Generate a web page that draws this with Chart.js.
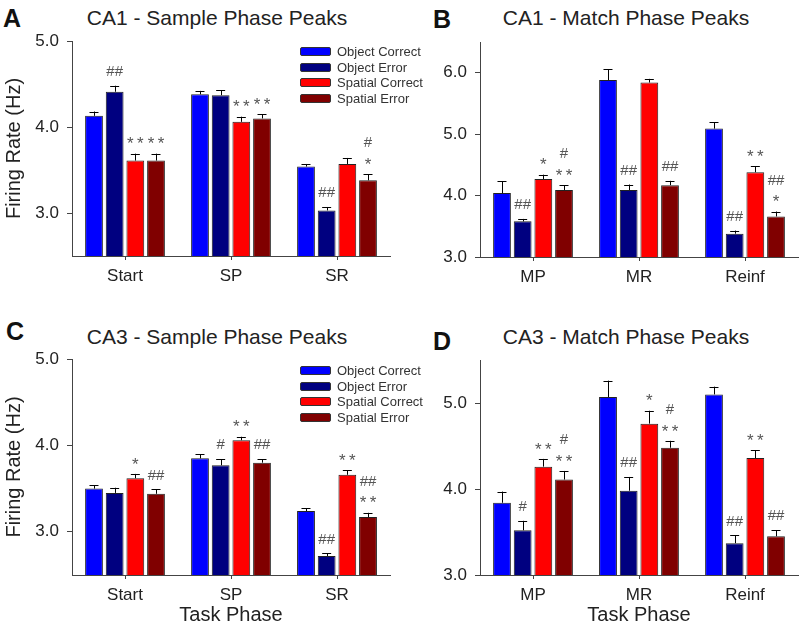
<!DOCTYPE html>
<html><head><meta charset="utf-8">
<script src="https://cdn.jsdelivr.net/npm/chart.js@4.4.0/dist/chart.umd.min.js"></script>
<style>
html,body{margin:0;padding:0;background:#fff;}
body{width:800px;height:625px;position:relative;overflow:hidden;font-family:"Liberation Sans",Arial,sans-serif;color:#222;}
.pane{position:absolute;}
.title{position:absolute;transform:translate(-50%,-50%);font-size:21px;white-space:nowrap;color:#222}
.letter{position:absolute;font-weight:bold;font-size:25px;line-height:1;color:#111}
.legend{position:absolute;font-size:13px;color:#333}
.legend div{height:15.5px;display:flex;align-items:center;white-space:nowrap}
.legend i{display:inline-block;width:29px;height:7px;border:1px solid #333;border-radius:2px;margin-right:6px}
</style></head>
<body>
<div class="letter" style="left:3px;top:6px">A</div>
<div class="letter" style="left:433px;top:7px">B</div>
<div class="letter" style="left:6px;top:319px">C</div>
<div class="letter" style="left:433px;top:329px">D</div>
<div class="title" style="left:217px;top:18px">CA1 - Sample Phase Peaks</div>
<div class="title" style="left:626px;top:18px">CA1 - Match Phase Peaks</div>
<div class="title" style="left:217px;top:337px">CA3 - Sample Phase Peaks</div>
<div class="title" style="left:626px;top:337px">CA3 - Match Phase Peaks</div>
<canvas class="pane" id="cA" width="400" height="310" style="left:0;top:0"></canvas>
<canvas class="pane" id="cB" width="400" height="310" style="left:400px;top:0"></canvas>
<canvas class="pane" id="cC" width="400" height="307" style="left:0;top:318px"></canvas>
<canvas class="pane" id="cD" width="400" height="307" style="left:400px;top:318px"></canvas>
<div class="legend" id="legA" style="left:300px;top:44px"></div>
<div class="legend" id="legC" style="left:300px;top:363px"></div>
<script>
/* firing-rate peaks, CA1 / CA3 — bars = mean, whisker = SEM */
const SERIES = ['Object Correct','Object Error','Spatial Correct','Spatial Error'];
const COLORS = ['#0000ff','#000080','#ff0000','#800000'];
const catsSample = ['Start','SP','SR'];
const catsMatch = ['MP','MR','Reinf'];

// rows = series (OC, OE, SC, SE), columns = task phase
const meanA = [[4.13,4.38,3.54],[4.41,4.37,3.03],[3.61,4.06,3.57],[3.61,4.10,3.38]];
const semA  = [[0.05,0.04,0.03],[0.07,0.06,0.04],[0.08,0.06,0.07],[0.08,0.05,0.07]];
const sigA  = [['','',''],['##','','##'],['**','**',''],['**','**','#\n*']];
const ticksA = [3,4,5];

const meanB = [[4.04,5.88,5.09],[3.58,4.09,3.38],[4.27,5.84,4.38],[4.09,4.17,3.66]];
const semB  = [[0.19,0.18,0.10],[0.04,0.09,0.05],[0.07,0.06,0.10],[0.08,0.07,0.08]];
const sigB  = [['','',''],['##','##','##'],['*','','**'],['#\n**','##','##\n*']];
const ticksB = [3,4,5,6];

const meanC = [[3.50,3.85,3.24],[3.45,3.77,2.72],[3.62,4.06,3.66],[3.44,3.80,3.17]];
const semC  = [[0.04,0.05,0.03],[0.06,0.07,0.03],[0.05,0.04,0.05],[0.05,0.04,0.05]];
const sigC  = [['','',''],['','#','##'],['*','**','**'],['##','##','##\n**']];
const ticksC = [3,4,5];

const meanD = [[3.84,5.07,5.10],[3.52,3.98,3.37],[4.26,4.76,4.36],[4.11,4.48,3.45]];
const semD  = [[0.13,0.19,0.09],[0.11,0.16,0.09],[0.09,0.15,0.09],[0.10,0.08,0.07]];
const sigD  = [['','',''],['#','##','##'],['**','*','**'],['#\n**','#\n**','##']];
const ticksD = [3,4,5];

Chart.defaults.font.family = '"Liberation Sans", Arial, sans-serif';
Chart.defaults.color = '#222';

const errPlugin = {
  id:'errsig',
  afterDatasetsDraw(chart){
    const {ctx, scales:{y}} = chart;
    const sems = chart.options.plugins.errsig.sems, sigs = chart.options.plugins.errsig.sigs;
    ctx.save();
    chart.data.datasets.forEach((ds,d)=>{
      chart.getDatasetMeta(d).data.forEach((bar,i)=>{
        const top = y.getPixelForValue(ds.data[i] + sems[d][i]);
        ctx.strokeStyle='#000'; ctx.lineWidth=1;
        ctx.beginPath();
        ctx.moveTo(Math.round(bar.x)+0.5, bar.y); ctx.lineTo(Math.round(bar.x)+0.5, top);
        ctx.moveTo(bar.x-4.5, Math.round(top)+0.5); ctx.lineTo(bar.x+4.5, Math.round(top)+0.5);
        ctx.stroke();
        const s = sigs[d][i]; if(!s) return;
        ctx.fillStyle='#555';
        ctx.textAlign='center'; ctx.textBaseline='middle';
        s.split('\n').reverse().forEach((ln,j)=>{
          const star = ln.indexOf('*')>=0;
          ctx.font = (star?'17px':'15px')+' "Liberation Sans", Arial, sans-serif';
          const txt = star ? ln.split('').join('\u2009') : ln;
          ctx.fillText(txt, bar.x, top - 14 - 17*j + (star?5:0));
        });
      });
    });
    ctx.restore();
  }
};

function panel(id, cats, mean, sem, sig, yMin, yMax, yTicks, o){
  const H = document.getElementById(id).height;
  return new Chart(document.getElementById(id),{
    type:'bar',
    data:{labels:cats, datasets:SERIES.map((n,k)=>({label:n, data:mean[k], backgroundColor:COLORS[k],
      borderColor:'#222', borderWidth:1, borderSkipped:'bottom', categoryPercentage:0.78, barPercentage:0.86}))},
    options:{
      responsive:false, animation:false,
      layout:{padding:{top:o.top, right:o.right, left:0, bottom:0}},
      plugins:{legend:{display:false}, tooltip:{enabled:false}, errsig:{sems:sem, sigs:sig}},
      scales:{
        x:{grid:{drawOnChartArea:false, offset:false, tickLength:4, color:'#444'}, border:{color:'#444'},
           ticks:{font:{size:17}, padding:6, color:'#222'},
           title:{display:!!o.xTitle, text:o.xTitle||'', font:{size:20, lineHeight:1}, padding:{top:0,bottom:0}, color:'#222'},
           afterFit:s=>{s.height = H - o.bottom;}},
        y:{min:yMin, max:yMax, grid:{drawOnChartArea:false, tickLength:5, color:'#444'}, border:{color:'#444'},
           afterBuildTicks:s=>{s.ticks = yTicks.map(v=>({value:v}));},
           ticks:{font:{size:17}, padding:8, color:'#222', callback:v=>(+v).toFixed(1)},
           title:{display:!!o.yTitle, text:o.yTitle||'', font:{size:20}, padding:{top:2,bottom:0}, color:'#222'},
           afterFit:s=>{s.width = o.left;}}
      }
    },
    plugins:[errPlugin]
  });
}

try{
panel('cA', catsSample, meanA, semA, sigA, 2.5, 5.0, ticksA, {top:41,right:10,left:72,bottom:256,yTitle:'Firing Rate (Hz)'});
panel('cB', catsMatch, meanB, semB, sigB, 3.0, 6.5, ticksB, {top:42,right:2,left:80,bottom:257});
panel('cC', catsSample, meanC, semC, sigC, 2.5, 5.0, ticksC, {top:41,right:10,left:72,bottom:257,yTitle:'Firing Rate (Hz)',xTitle:'Task Phase'});
panel('cD', catsMatch, meanD, semD, sigD, 3.0, 5.5, ticksD, {top:42,right:2,left:80,bottom:257,xTitle:'Task Phase'});
['legA','legC'].forEach(id=>{
  document.getElementById(id).innerHTML = SERIES.map((n,k)=>`<div><i style="background:${COLORS[k]}"></i>${n}</div>`).join('');
});
}catch(e){document.body.insertAdjacentHTML('beforeend','<pre style="position:absolute;top:0;color:#c00">'+((e&&e.stack)||e)+'</pre>');}
</script>
</body></html>
